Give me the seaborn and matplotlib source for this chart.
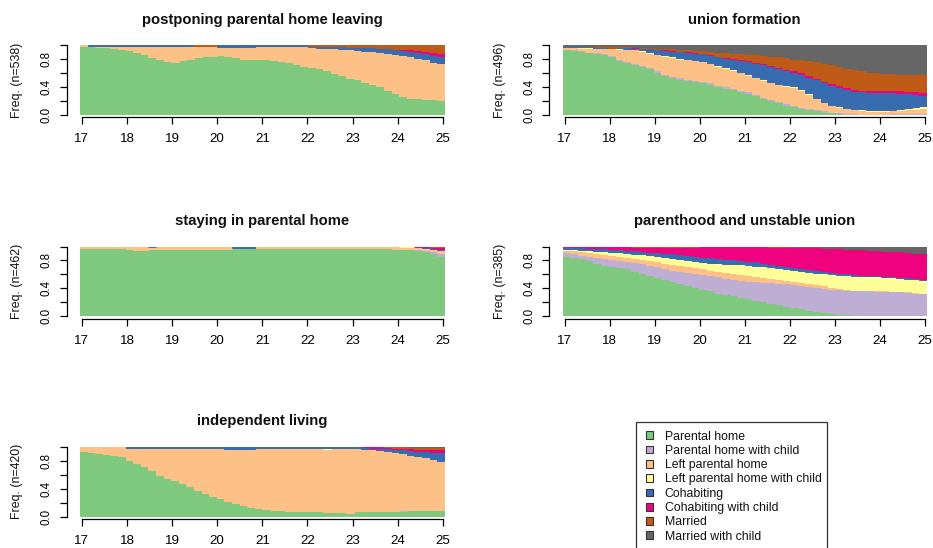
import numpy as np
import pandas as pd
import matplotlib
matplotlib.use("Agg")
import matplotlib.pyplot as plt
from matplotlib.patches import Patch, Rectangle
import seaborn as sns

# ---------------------------------------------------------------------------
# States (bottom to top) and their colours
# ---------------------------------------------------------------------------
states = ["Parental home", "Parental home with child", "Left parental home",
          "Left parental home with child", "Cohabiting", "Cohabiting with child",
          "Married", "Married with child"]
state_colors = ["#7FC97F", "#BEAED4", "#FDC086", "#FFFF99",
                "#386CB0", "#F0027F", "#BF5B17", "#666666"]

age_ticks = [17, 18, 19, 20, 21, 22, 23, 24, 25]

# Cross-sectional state distributions (% of cluster) in two-month steps, 17.0 -> 24.9
# --- cluster 1: postponing parental home leaving (n=538)
c1_parental = [98.5, 98.5, 98, 97, 96, 95, 93, 90, 87, 83, 80, 77, 76, 79, 80, 83, 84, 85, 86, 84,
               83, 81, 81, 81, 80, 79, 78, 76, 73, 71, 69, 67, 64, 60, 57, 53, 51, 48, 45, 41,
               36, 31, 27, 24.5, 24, 23.5, 23, 22]
c1_parental_child = [0] * 48
c1_left = [1.5, 0.5, 1, 2, 3, 4, 6, 9, 12, 16, 19, 22, 23, 20, 19, 15.5, 14.5, 13.5, 11.5, 13.5,
           14.5, 16.5, 16.5, 18, 19, 20, 20.5, 22.5, 25.5, 27.5, 28, 29.5, 32, 35.5, 38, 41, 42.5,
           44.5, 46.5, 49.5, 53, 56, 58.5, 59.5, 58, 56.5, 53.5, 52]
c1_left_child = [0] * 48
c1_cohab = [0, 1, 1, 1, 1, 1, 1, 1, 1, 1, 1, 1, 1, 1, 1, 0, 0, 0, 2.5, 2.5, 2.5, 2.5, 2.5, 1, 1, 1,
            1.5, 1.5, 1.5, 1.5, 2.5, 3, 3, 3.5, 3.5, 4, 4.5, 5, 5.5, 5.5, 6.5, 8, 8, 8, 8.5, 9,
            9.5, 10]
c1_cohab_child = [0] * 42 + [1, 2, 2.5, 3, 4, 5]
c1_married = ([0] * 15 + [1.5, 1.5, 1.5] + [0] * 12
              + [0.5, 0.5, 1, 1, 1.5, 2, 2, 2.5, 3, 4, 4.5, 5, 5.5, 6, 7, 8, 10, 11])
c1_married_child = [0] * 48

# --- cluster 2: union formation (n=496)
c2_parental = [94, 93, 92, 90, 89, 87, 84, 79, 76, 73, 70, 67, 62, 57, 54, 52, 50, 48.5, 47, 45,
               41, 39, 37, 34, 32, 28, 24, 21, 18, 15, 13, 10, 8, 6.5, 5, 4, 3, 2, 1.5, 1,
               1, 1, 1, 1.5, 1.5, 1.5, 2, 2]
c2_parental_child = [1, 1, 1, 1, 1, 1.5, 1.5, 1.5, 1.5, 1.5, 1.5, 2, 2, 2, 2, 2, 2, 2, 2, 2,
                     2, 2, 2, 2, 2, 2, 2, 1.5, 1.5, 1.5, 1.5, 1.5, 1.5, 1.5, 1.5, 1, 1, 1, 1, 1,
                     1, 1, 1, 1, 1.5, 1.5, 1.5, 1.5]
c2_left = [3, 3.5, 3.5, 5, 6, 7.5, 10, 14.5, 17, 19.5, 20.5, 20, 23, 26, 27, 27, 28, 28, 28, 27,
           28, 27, 26, 25, 24, 24, 24, 24.5, 24.5, 25.5, 25.5, 24.5, 20.5, 16, 11.5, 9, 7.5, 6.5,
           5.5, 5, 3.5, 3.5, 4, 4, 4, 5, 5.5, 6.5]
c2_left_child = [0, 0.5, 1, 1, 0.5, 0.5, 0.5, 0.5, 0.8, 0.8, 0.8, 1, 1, 1, 1, 1, 1, 1, 1, 1,
                 1, 1, 1, 1, 1, 1, 1, 1, 1, 1, 1, 1, 1, 1, 1, 1, 1, 1, 1, 1,
                 1, 1, 1, 1, 1.5, 2, 3, 3]
c2_cohab = [1, 1, 1, 1, 1, 1, 0.5, 1.5, 1.7, 1.7, 3.2, 5.5, 6.5, 7.5, 8.5, 9.5, 9.5, 10, 10.5, 11.5,
            12, 13, 14.5, 17, 18.5, 20, 21.5, 22, 22.5, 21.5, 21, 22, 24, 26, 28, 28.5, 27.5, 26.5,
            26, 26, 27, 26.5, 26, 25, 23.5, 21, 18, 16]
c2_cohab_child = [0, 0, 0, 0, 0, 0, 0, 0, 0.5, 0.5, 0.5, 0.5, 0.5, 0.5, 1, 1, 1, 1, 1, 1,
                  1, 1.5, 1.5, 1.5, 1.5, 1.5, 1.5, 1.5, 1.5, 1.5, 2, 2, 2, 2, 2, 2, 2.5, 2.5, 2.5,
                  2.5, 2.5, 2.5, 3, 3, 3.5, 4, 4, 4]
c2_married = [0, 0, 0, 0, 1, 1, 2.5, 2, 1, 1, 1, 1, 1.5, 2, 2, 2.5, 2.5, 3, 3.5, 4.5,
              6, 6.5, 7.5, 8.5, 9, 10.5, 12, 13.5, 15, 16.5, 17, 19, 21.5, 24, 26, 27.5, 28, 28.5,
              28.5, 27.5, 26, 25.5, 24.5, 24.5, 24, 24, 25, 26]
c2_married_child = [1, 1, 1.5, 2, 1.5, 1.5, 1, 1, 1.5, 2, 2.5, 3, 3.5, 4, 4.5, 5, 6, 6.5, 7, 8,
                    9, 10, 10.5, 11, 12, 13, 14, 15, 16, 17.5, 19, 20, 21.5, 23, 25, 27, 29.5,
                    32, 34, 36, 38, 39, 39.5, 40, 40.5, 41, 41, 41]

# --- cluster 3: staying in parental home (n=462)
c3_parental = [98.5, 98.5, 98, 97.5, 97.5, 97.5, 96, 95.5, 95.5, 96, 96, 96.5, 96.5, 96.5, 97, 96.5,
               96.5, 97, 97, 97, 97.5, 97.5, 97.5, 98, 98.5, 98.5, 98.5, 98.5, 98.5, 98.5, 98, 98,
               97.5, 97.5, 97.5, 97.5, 97.5, 97.5, 97.5, 97.5, 97.5, 97, 97, 96, 95, 93, 90, 87]
c3_parental_child = [0] * 44 + [1, 2, 3, 4]
c3_left = [1.5, 1.5, 2, 2.5, 2.5, 2.5, 4, 4.5, 4.5, 3, 4, 3.5, 3.5, 3.5, 3, 3.5, 3.5, 3, 3, 3,
           1, 1, 1, 2, 1.5, 1.5, 1.5, 1.5, 1.5, 1.5, 2, 2, 2.5, 2.5, 2.5, 2.5, 2.5, 2.5, 2.5, 2.5,
           2.5, 3, 2, 3.5, 3.5, 3.5, 4, 4.5]
c3_left_child = [0] * 42 + [1, 0.5, 0, 0, 0, 0]
c3_cohab = [0] * 9 + [1] + [0] * 10 + [1.5, 1.5, 1.5] + [0] * 22 + [0.5, 0.5, 1]
c3_cohab_child = [0] * 44 + [0.5, 1, 2, 2.5]
c3_married = [0] * 46 + [0.5, 1]
c3_married_child = [0] * 48

# --- cluster 4: parenthood and unstable union (n=385)
c4_parental = [87, 85, 83, 80, 77, 74, 72.5, 70, 68.5, 65.5, 62.5, 59.5, 56, 53.5, 51, 48, 44.5, 42,
               39, 37, 34, 32, 30, 27.5, 26, 23.5, 22, 19.5, 17.5, 15, 13.5, 11.5, 9.5, 8, 6.5,
               4.5, 3.5, 2.5, 1.5, 0.8, 0, 0, 0, 0, 0, 0, 0, 0]
c4_parental_child = [5, 5.5, 5.5, 6.5, 8, 9, 9, 10, 10.5, 12, 13.5, 14, 15.5, 16, 16, 17.5, 19.5, 20,
                     21, 21.5, 23, 23, 23.5, 24, 25, 27, 27.5, 29.3, 30.5, 32, 32.5, 33.5, 34.5,
                     34.5, 34.5, 35, 35, 35.5, 36, 36.4, 37, 36.8, 36.5, 36.2, 35.8, 35, 34, 33]
c4_left = [3.5, 4, 5, 6, 6, 6.5, 6.5, 6.5, 6, 6, 6, 6.5, 7, 7.5, 8, 7.5, 7.5, 8, 8.5, 8,
           8, 8, 8, 8.5, 8, 7.3, 7, 6.2, 6, 5.5, 5, 4.5, 4, 3.5, 3.5, 3, 2.5, 1, 0.5, 0.5,
           0.5, 0.5, 0.5, 0.5, 0.5, 0.5, 0.5, 0.5]
c4_left_child = [1.5, 2, 2, 2.3, 3, 3.5, 4, 5, 5.5, 6, 6.8, 7.5, 8, 8, 8.5, 9, 8.5, 8.5, 9, 10,
                 10.8, 12.2, 13.2, 14.2, 14.5, 14.7, 15, 15.5, 15.5, 15.5, 16, 16, 16, 16.5, 17,
                 17.5, 18, 19.5, 20, 20.1, 20, 19.7, 19.5, 19, 18.5, 18.5, 18.8, 19]
c4_cohab = [2.5, 2.5, 3.2, 3.5, 4, 4.5, 4.8, 4.7, 5, 5.3, 5.2, 5.3, 5.3, 6, 6.5, 7, 7.8, 8, 8, 8,
            7.7, 7.3, 6.8, 6.3, 6, 6, 5.5, 5, 4.5, 4, 3.5, 3.5, 3.5, 3.5, 3.5, 3.5, 3.5, 3, 2.5,
            2, 1.5, 1.5, 1.5, 1.5, 1.7, 1.8, 1.7, 1.5]
c4_cohab_child = [0.5, 1, 1.3, 1.7, 2, 2.5, 3.2, 3.8, 4.5, 4.7, 5, 6.2, 7.2, 8, 9, 10, 11.2, 13,
                  14.5, 15.5, 16.5, 17.5, 18.5, 19.5, 20.5, 21.5, 23, 23.5, 25, 27, 28.5, 30,
                  31.5, 33, 33.5, 34.5, 35, 35.5, 36, 36.2, 36.5, 36.3, 36.2, 36.5, 36.8, 36.7,
                  36.2, 36]
c4_married = [0] * 9 + [0.5, 1, 1, 1, 1, 1, 1, 1, 0.5] + [0] * 9 + [1, 1, 1, 0.5] + [0] * 17
c4_married_child = [0] * 30 + [0.5, 1, 1, 1, 1.5, 2, 2.5, 3, 3.5, 4, 4.5, 5.2, 5.8, 6.3, 6.7,
                               7.5, 8.8, 10]

# --- cluster 5: independent living (n=420)
c5_parental = [94, 93.5, 92, 90.5, 89, 87, 82, 77, 73, 67, 60, 55.5, 52, 48, 43.5, 39, 34.5, 30,
               27, 23, 19.5, 16.5, 14.5, 12, 11, 10, 9, 8, 7.5, 7.5, 7.5, 7.5, 7, 7, 6.5, 6, 7.5,
               8, 8, 8, 8.5, 8.5, 8.5, 9, 9, 9, 9, 9]
c5_parental_child = [0] * 42 + [0.5, 0.5, 0.5, 1, 1, 1]
c5_left = [6, 6.5, 8, 9.5, 11, 13, 17, 22, 26, 32, 39, 43.5, 46.5, 50.5, 55, 59.5, 64, 68.5, 71, 74,
           77.5, 80.5, 82.5, 86.5, 87.5, 88, 89.5, 90.5, 91, 90.5, 90.5, 90.5, 90.5, 91, 91.5, 92,
           90.5, 89.5, 88.5, 87.5, 85.5, 84, 82, 79, 77, 75, 72.5, 70]
c5_left_child = ([0] * 18 + [0.5] + [0] * 6 + [0.5] + [0] * 3 + [0.5] + [0] * 2 + [0.5]
                 + [0] * 6 + [0.5] + [0] * 8)
c5_cohab = ([0] * 6 + [1] * 6 + [1.5] * 7 + [3] * 4 + [1.5] * 7 + [2] * 7
            + [2, 2.5, 3, 4, 5, 6, 7, 8, 9, 10.5, 12.5])
c5_cohab_child = [0] * 37 + [0.5, 1, 1, 1.5, 1.5, 2, 2.5, 3, 3.5, 4, 4.5]
c5_married = [0] * 40 + [0.5, 1, 1, 1.5, 2, 2, 2.5, 2.5]
c5_married_child = [0] * 43 + [0.5] * 5

clusters = [
    ("postponing parental home leaving", 538,
     [c1_parental, c1_parental_child, c1_left, c1_left_child,
      c1_cohab, c1_cohab_child, c1_married, c1_married_child]),
    ("union formation", 496,
     [c2_parental, c2_parental_child, c2_left, c2_left_child,
      c2_cohab, c2_cohab_child, c2_married, c2_married_child]),
    ("staying in parental home", 462,
     [c3_parental, c3_parental_child, c3_left, c3_left_child,
      c3_cohab, c3_cohab_child, c3_married, c3_married_child]),
    ("parenthood and unstable union", 385,
     [c4_parental, c4_parental_child, c4_left, c4_left_child,
      c4_cohab, c4_cohab_child, c4_married, c4_married_child]),
    ("independent living", 420,
     [c5_parental, c5_parental_child, c5_left, c5_left_child,
      c5_cohab, c5_cohab_child, c5_married, c5_married_child]),
]

# ---------------------------------------------------------------------------
sns.set_theme(style="ticks")
plt.rcParams["font.family"] = ["Liberation Sans", "DejaVu Sans"]

W, H = 933, 548
fig = plt.figure(figsize=(W / 100, H / 100), dpi=100)

# age axis: 48 two-month bins spanning half a month either side of 17 and 25
edges = np.linspace(17 - 1 / 24, 25 + 1 / 24, 49)
mids = (edges[:-1] + edges[1:]) / 2
palette = dict(zip(states, state_colors))

# panel boxes in pixels: (left, top, width, height)
boxes = [(80, 45.3, 364.7, 69.7), (562.7, 45.3, 364.0, 69.7),
         (80, 246.5, 364.7, 69.7), (562.7, 246.5, 364.0, 69.7),
         (80, 447.0, 364.7, 69.7)]

for (title, n, series), (px, py, pw, ph) in zip(clusters, boxes):
    ax = fig.add_axes([px / W, 1 - (py + ph) / H, pw / W, ph / H])
    frame = pd.concat(
        [pd.DataFrame({"age": mids, "state": s, "freq": v}) for s, v in zip(states, series)],
        ignore_index=True)
    sns.histplot(data=frame, x="age", hue="state", weights="freq", bins=list(edges),
                 multiple="fill", hue_order=states[::-1], palette=palette,
                 alpha=1, linewidth=0, legend=False, ax=ax)
    # close the hairline seams between neighbouring bars
    for p in ax.patches:
        if p.get_height() > 0:
            p.set_edgecolor(p.get_facecolor())
            p.set_linewidth(0.7)

    ax.set_xlim(edges[0], edges[-1])
    ax.set_ylim(0, 1)
    ax.set_xlabel("")
    ax.set_ylabel("")
    for side in ("top", "right"):
        ax.spines[side].set_visible(False)
    ax.spines["left"].set_position(("outward", 9.6))
    ax.spines["bottom"].set_position(("outward", 1.7))
    ax.spines["left"].set_bounds(0, 1)
    ax.spines["bottom"].set_bounds(17, 25)
    for side in ("left", "bottom"):
        ax.spines[side].set_color("black")
        ax.spines[side].set_linewidth(0.9)

    ax.set_xticks(age_ticks)
    ax.set_xticklabels([str(a) for a in age_ticks], fontsize=9.6)
    ax.set_yticks([0, 0.2, 0.4, 0.6, 0.8, 1.0])
    ax.set_yticklabels(["0.0", "", "0.4", "", "0.8", ""], fontsize=8.3,
                       rotation=90, va="center")
    ax.tick_params(axis="x", direction="out", length=5, width=0.9, pad=6.5, colors="black")
    ax.tick_params(axis="y", direction="out", length=5, width=0.9, pad=5, colors="black")

    ax.text(0.5, 1 + 25.5 / ph, title, transform=ax.transAxes, ha="center", va="center",
            fontsize=10.7, fontweight="bold", color="#111111")
    fig.text((px - 62.5) / W, 1 - (py + ph / 2) / H, f"Freq. (n={n})", rotation=90,
             ha="center", va="center", fontsize=8.9, color="#111111")

# legend of the eight states, inside a plain box that runs off the lower edge
handles = [Patch(facecolor=c, edgecolor="#333333", linewidth=0.8) for c in state_colors]
leg = fig.legend(handles, states, loc="upper left",
                 bbox_to_anchor=(645.5 / W, 1 - 430.5 / H),
                 fontsize=8.8, frameon=False, handlelength=0.62, handleheight=0.62,
                 handletextpad=0.95, labelspacing=0.19, borderpad=0, borderaxespad=0)
for t in leg.get_texts():
    t.set_color("#111111")
fig.add_artist(Rectangle((635.7 / W, -0.05), (826.7 - 635.7) / W, 1.05 - 422.3 / H,
                         transform=fig.transFigure, fill=False, edgecolor="#333333",
                         linewidth=0.9))

fig.savefig("out.png", dpi=100, facecolor="white")
